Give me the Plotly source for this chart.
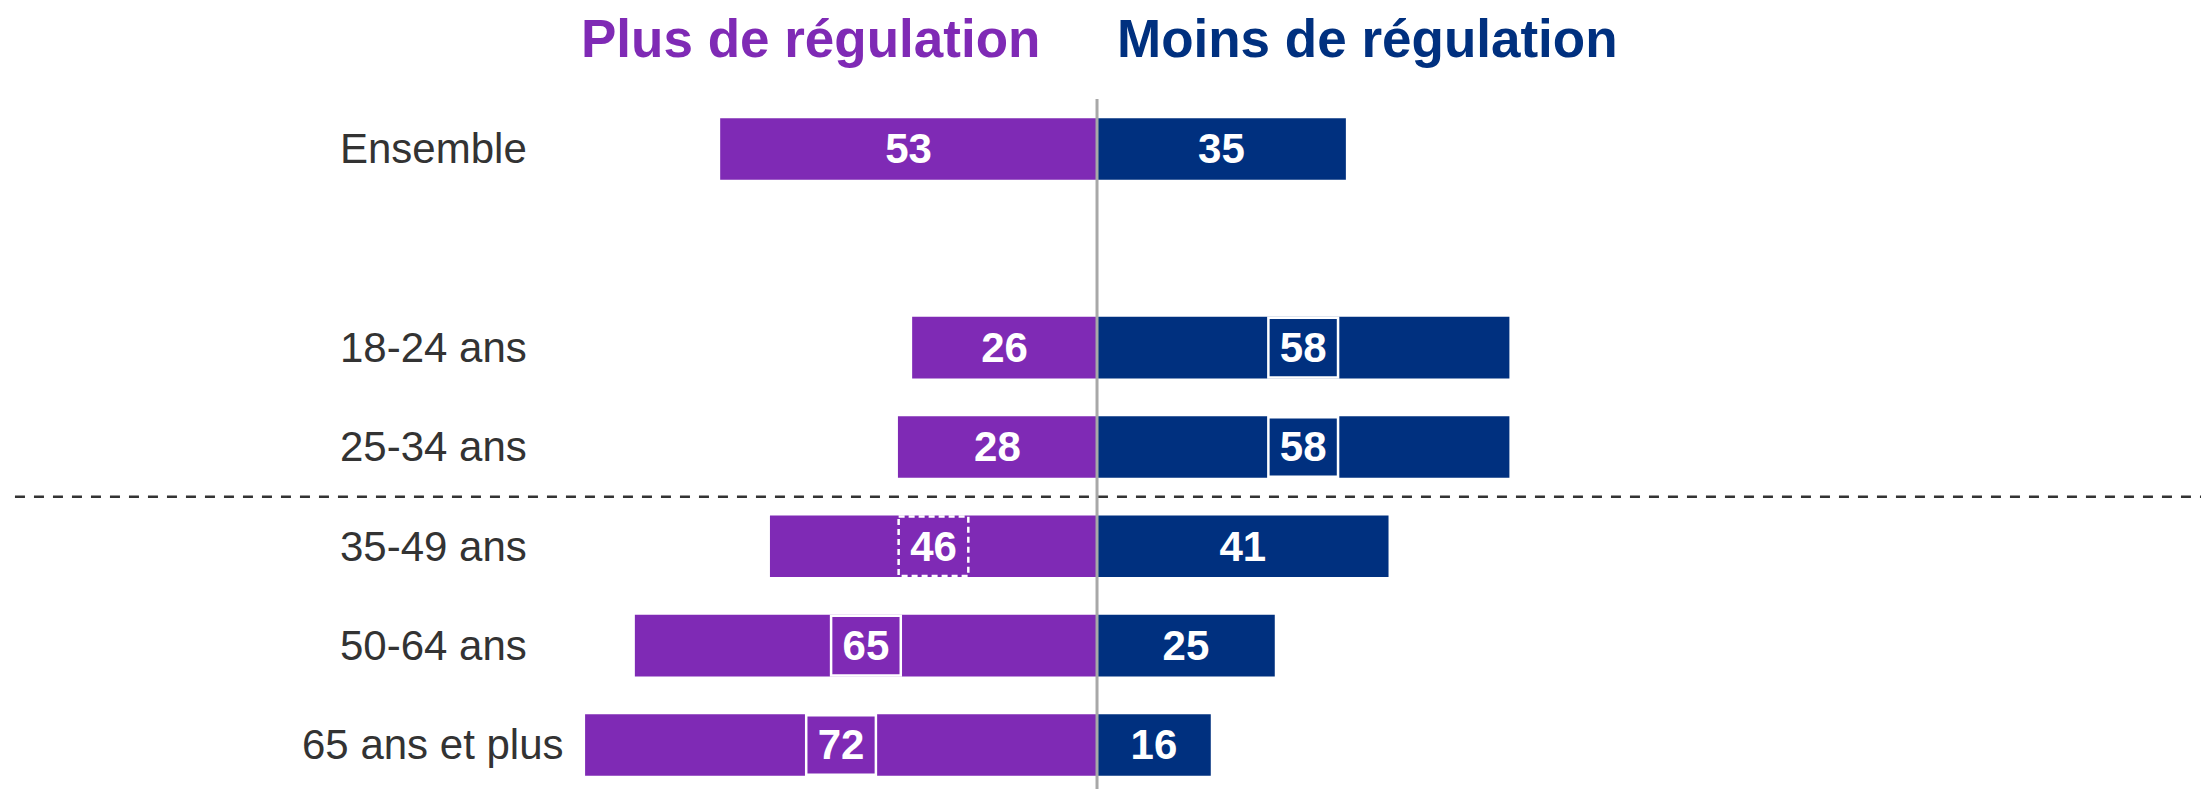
import plotly.graph_objects as go

categories = ["Ensemble", " ", "18-24 ans", "25-34 ans", "35-49 ans", "50-64 ans", "65 ans et plus"]
plus_values = [53, None, 26, 28, 46, 65, 72]
moins_values = [35, None, 58, 58, 41, 25, 16]
series_names = ["Plus de régulation", "Moins de régulation"]
# highlighted value boxes: category -> (series, border style)
highlights = {
    "18-24 ans": ("moins", "solid"),
    "25-34 ans": ("moins", "solid"),
    "35-49 ans": ("plus", "dash"),
    "50-64 ans": ("plus", "solid"),
    "65 ans et plus": ("plus", "solid"),
}

PURPLE = "#7F2AB5"
NAVY = "#00307F"
FONT = "Liberation Sans, Arial, sans-serif"
BAR_W = 0.62

fig = go.Figure()
fig.add_trace(go.Bar(
    y=categories, x=[-v if v is not None else None for v in plus_values],
    orientation="h", marker=dict(color=PURPLE, line=dict(width=0)), width=BAR_W,
    text=[str(v) if v is not None else "" for v in plus_values],
    textposition="inside", insidetextanchor="middle", textangle=0,
    constraintext="none",
    textfont=dict(color="white", size=42, family=FONT, weight="bold"),
    name=series_names[0], hoverinfo="skip",
))
fig.add_trace(go.Bar(
    y=categories, x=moins_values,
    orientation="h", marker=dict(color=NAVY, line=dict(width=0)), width=BAR_W,
    text=[str(v) if v is not None else "" for v in moins_values],
    textposition="inside", insidetextanchor="middle", textangle=0,
    constraintext="none",
    textfont=dict(color="white", size=42, family=FONT, weight="bold"),
    name=series_names[1], hoverinfo="skip",
))

shapes = []
# highlight boxes around values
box_half = 4.9
for cat, (side, style) in highlights.items():
    i = categories.index(cat)
    if side == "plus":
        c = -plus_values[i] / 2
    else:
        c = moins_values[i] / 2
    shapes.append(dict(type="rect", xref="x", yref="y",
                       x0=c - box_half, x1=c + box_half,
                       y0=i - BAR_W / 2 + 0.01, y1=i + BAR_W / 2 - 0.01,
                       line=dict(color="white", width=2.5, dash="6px,4px" if style == "dash" else "solid"),
                       fillcolor="rgba(0,0,0,0)", layer="above"))
# separator dashed line between 25-34 and 35-49
sep = (categories.index("25-34 ans") + categories.index("35-49 ans")) / 2
shapes.append(dict(type="line", xref="paper", yref="y", x0=0.0068, x1=1, y0=sep, y1=sep,
                   line=dict(color="#333333", width=2.5, dash="10px,9px"), layer="above"))
# center axis line
shapes.append(dict(type="line", xref="x", yref="paper", x0=0, x1=0, y0=0, y1=1,
                   line=dict(color="#A8A8A8", width=3), layer="above"))

annotations = []
for cat in categories:
    if cat.strip():
        annotations.append(dict(xref="paper", yref="y", x=433 / 2201, y=cat, text=cat,
                                showarrow=False, xanchor="center", yanchor="middle",
                                font=dict(size=42, color="#333333", family=FONT)))
annotations.append(dict(xref="paper", yref="paper", x=810 / 2201, y=1.0884, text=f"<b>{series_names[0]}</b>",
                        showarrow=False, xanchor="center", yanchor="middle",
                        font=dict(size=53, color=PURPLE, family=FONT)))
annotations.append(dict(xref="paper", yref="paper", x=1367 / 2201, y=1.0884, text=f"<b>{series_names[1]}</b>",
                        showarrow=False, xanchor="center", yanchor="middle",
                        font=dict(size=53, color=NAVY, family=FONT)))

fig.update_layout(
    width=2201, height=789,
    margin=dict(l=0, r=0, t=99, b=0, pad=0),
    barmode="relative",
    showlegend=False,
    plot_bgcolor="white", paper_bgcolor="white",
    xaxis=dict(range=[-154.29, 155.27], visible=False, showgrid=False, zeroline=False),
    yaxis=dict(type="category", categoryarray=categories, categoryorder="array",
               range=[6.443, -0.503], visible=False, showgrid=False, zeroline=False),
    shapes=shapes, annotations=annotations,
    uniformtext=dict(mode=False),
)

fig.write_html("out.html", config={"displayModeBar": False},
               post_script="document.body.style.margin='0';document.body.style.overflow='hidden';")
